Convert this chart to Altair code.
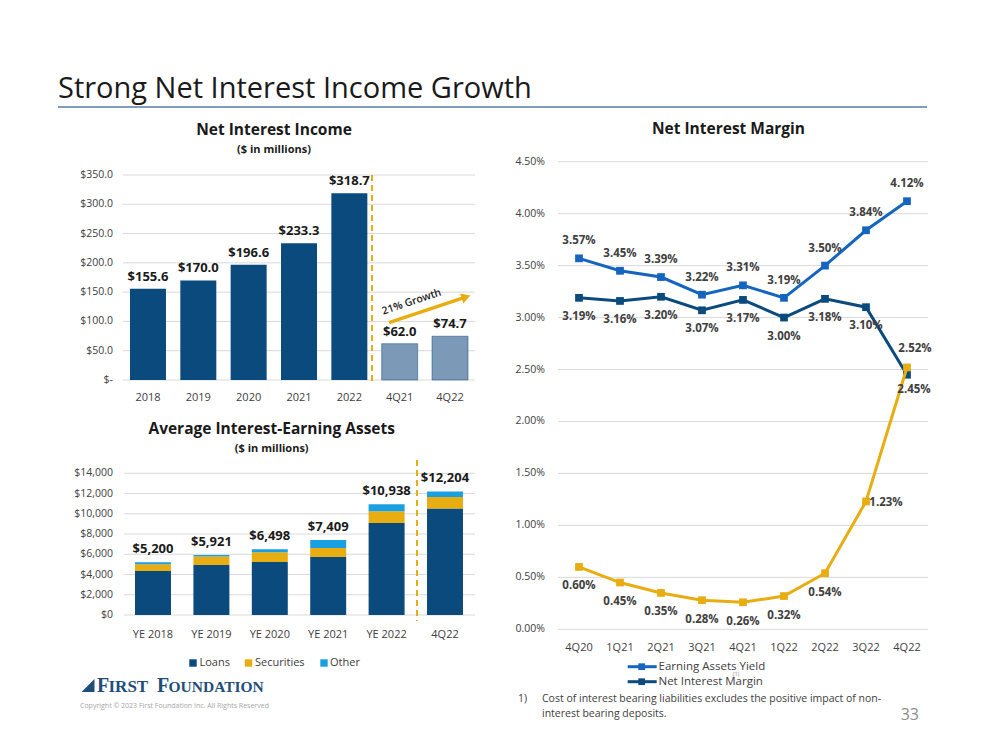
import altair as alt
import pandas as pd

# ---------------- data ----------------
nii_cats = ["2018", "2019", "2020", "2021", "2022", "4Q21", "4Q22"]
nii_vals = [155.6, 170.0, 196.6, 233.3, 318.7, 62.0, 74.7]
nii_kind = ["year", "year", "year", "year", "year", "quarter", "quarter"]
nii_ticks = [0, 50, 100, 150, 200, 250, 300, 350]
nii_tick_labels = ["$-", "$50.0", "$100.0", "$150.0", "$200.0", "$250.0", "$300.0", "$350.0"]

aiea_cats = ["YE 2018", "YE 2019", "YE 2020", "YE 2021", "YE 2022", "4Q22"]
aiea_components = ["Loans", "Securities", "Other"]
loans = [4350, 4940, 5240, 5730, 9090, 10510]
securities = [660, 830, 950, 890, 1155, 1150]
other = [190, 151, 308, 789, 693, 544]
aiea_totals = [5200, 5921, 6498, 7409, 10938, 12204]
aiea_ticks = [0, 2000, 4000, 6000, 8000, 10000, 12000, 14000]

quarters = ["4Q20", "1Q21", "2Q21", "3Q21", "4Q21", "1Q22", "2Q22", "3Q22", "4Q22"]
earning_yield = [3.57, 3.45, 3.39, 3.22, 3.31, 3.19, 3.50, 3.84, 4.12]
net_margin = [3.19, 3.16, 3.20, 3.07, 3.17, 3.00, 3.18, 3.10, 2.45]
cost_liab = [0.60, 0.45, 0.35, 0.28, 0.26, 0.32, 0.54, 1.23, 2.52]
nim_ticks = [0.0, 0.5, 1.0, 1.5, 2.0, 2.5, 3.0, 3.5, 4.0, 4.5]

# ---------------- style ----------------
FONT = "Open Sans"
SERIF = "Liberation Serif"
NAVY = "#0b4a7d"
GOLD = "#e8ad11"
SKY = "#1aa0e2"
BLUE = "#1565c0"
CHECK = "#7d99b8"
GRID = "#d9d9d9"
AXT = "#404040"
DARK = "#1a1a1a"
LOGO = "#1f4e79"


def px(v):
    return v - 8


one = pd.DataFrame({"k": [0]})


def txt(s, x, y, size, color=DARK, weight="normal", align="center",
        baseline="middle", angle=None, font=FONT):
    kw = dict(text=s, fontSize=size, color=color, fontWeight=weight,
              align=align, baseline=baseline, font=font)
    if angle is not None:
        kw["angle"] = angle
    return alt.Chart(one).mark_text(**kw).encode(x=alt.value(px(x)), y=alt.value(px(y)))


def vrule(x, y1, y2, color, width=1, dash=None):
    kw = dict(color=color, strokeWidth=width)
    if dash:
        kw["strokeDash"] = dash
    return alt.Chart(one).mark_rule(**kw).encode(
        x=alt.value(px(x)), y=alt.value(px(y1)), y2=alt.value(px(y2)))


layers = []

# ---------------- header ----------------
layers.append(txt("Strong Net Interest Income Growth", 58, 98, 29, color=DARK,
                  align="left", baseline="alphabetic"))
layers.append(alt.Chart(one).mark_rule(color="#7f9ebf", strokeWidth=2).encode(
    x=alt.value(px(58)), x2=alt.value(px(927)), y=alt.value(px(107))))

# ---------------- Net Interest Income ----------------
nii_x = alt.Scale(domain=nii_cats, range=[px(122.8), px(475.2)],
                  paddingInner=0.285, paddingOuter=0.1425)
nii_y = alt.Scale(domain=[0, 350], range=[px(380), px(175)], nice=False, zero=False)

nii_df = pd.DataFrame({
    "cat": nii_cats, "val": nii_vals, "kind": nii_kind,
    "label": [f"${v:.1f}" for v in nii_vals],
})
nii_tick_df = pd.DataFrame({"v": nii_ticks, "lab": nii_tick_labels})

layers.append(alt.Chart(nii_tick_df).mark_rule(color=GRID, strokeWidth=1).encode(
    y=alt.Y("v:Q", scale=nii_y, axis=None),
    x=alt.value(px(123)), x2=alt.value(px(475))))
layers.append(alt.Chart(nii_tick_df).mark_text(
    align="right", baseline="middle", fontSize=10.5, font=FONT, color=AXT).encode(
    y=alt.Y("v:Q", scale=nii_y, axis=None), x=alt.value(px(113)), text="lab:N"))

base_nii = alt.Chart(nii_df).encode(
    x=alt.X("cat:N", scale=nii_x, axis=None),
    y=alt.Y("val:Q", scale=nii_y, axis=None))
layers.append(base_nii.transform_filter("datum.kind == 'year'").mark_bar(color=NAVY))
layers.append(base_nii.transform_filter("datum.kind == 'quarter'").mark_bar(
    color=CHECK, stroke=NAVY, strokeWidth=0.5))
layers.append(base_nii.mark_text(dy=-12, fontSize=13, fontWeight="bold",
                                 font=FONT, color=DARK).encode(text="label:N"))
layers.append(alt.Chart(nii_df).mark_text(fontSize=11, font=FONT, color=AXT).encode(
    x=alt.X("cat:N", scale=nii_x, axis=None), y=alt.value(px(398)), text="cat:N"))

layers.append(vrule(372, 175, 385, GOLD, 2, [6, 4]))
layers.append(alt.Chart(one).mark_rule(color=GOLD, strokeWidth=3.5).encode(
    x=alt.value(px(389)), y=alt.value(px(322.7)),
    x2=alt.value(px(464)), y2=alt.value(px(297.6))))
layers.append(alt.Chart(one).mark_point(shape="triangle-right", filled=True, opacity=1,
                                        color=GOLD, size=110, angle=341.5).encode(
    x=alt.value(px(466)), y=alt.value(px(297))))
layers.append(txt("21% Growth", 411.7, 302, 10.5, color=DARK, weight=600, angle=341.5))

layers.append(txt("Net Interest Income", 274, 130, 15.5, weight="bold"))
layers.append(txt("($ in millions)", 274, 150, 11, weight="bold"))

# ---------------- Average Interest-Earning Assets ----------------
aiea_x = alt.Scale(domain=aiea_cats, range=[px(123.8), px(474.2)],
                   paddingInner=0.384, paddingOuter=0.192)
aiea_y = alt.Scale(domain=[0, 14000], range=[px(615), px(473.3)], nice=False, zero=False)

rows = []
for i, c in enumerate(aiea_cats):
    rows.append({"cat": c, "comp": "Loans", "value": loans[i], "ord": 0})
    rows.append({"cat": c, "comp": "Securities", "value": securities[i], "ord": 1})
    rows.append({"cat": c, "comp": "Other", "value": other[i], "ord": 2})
aiea_long = pd.DataFrame(rows)
aiea_tot_df = pd.DataFrame({"cat": aiea_cats, "tot": aiea_totals,
                            "label": [f"${v:,}" for v in aiea_totals]})
aiea_tick_df = pd.DataFrame({"v": aiea_ticks, "lab": [f"${v:,}" for v in aiea_ticks]})

layers.append(alt.Chart(aiea_tick_df).mark_rule(color=GRID, strokeWidth=1).encode(
    y=alt.Y("v:Q", scale=aiea_y, axis=None),
    x=alt.value(px(124)), x2=alt.value(px(475))))
layers.append(alt.Chart(aiea_tick_df).mark_text(
    align="right", baseline="middle", fontSize=10.5, font=FONT, color=AXT).encode(
    y=alt.Y("v:Q", scale=aiea_y, axis=None), x=alt.value(px(113)), text="lab:N"))

layers.append(alt.Chart(aiea_long).mark_bar().encode(
    x=alt.X("cat:N", scale=aiea_x, axis=None),
    y=alt.Y("value:Q", scale=aiea_y, axis=None, stack="zero"),
    color=alt.Color("comp:N", scale=alt.Scale(domain=aiea_components,
                                               range=[NAVY, GOLD, SKY]), legend=None),
    order=alt.Order("ord:Q")))
layers.append(alt.Chart(aiea_tot_df).mark_text(
    dy=-13.5, fontSize=13, fontWeight="bold", font=FONT, color=DARK).encode(
    x=alt.X("cat:N", scale=aiea_x, axis=None),
    y=alt.Y("tot:Q", scale=aiea_y, axis=None), text="label:N"))
layers.append(alt.Chart(aiea_tot_df).mark_text(fontSize=11, font=FONT, color=AXT).encode(
    x=alt.X("cat:N", scale=aiea_x, axis=None), y=alt.value(px(635)), text="cat:N"))

layers.append(vrule(417, 460, 621, GOLD, 2, [6, 4]))
layers.append(txt("Average Interest-Earning Assets", 271.7, 428.5, 15.5, weight="bold"))
layers.append(txt("($ in millions)", 271.7, 448.5, 11, weight="bold"))

# legend
leg_df = pd.DataFrame({"comp": aiea_components,
                       "sx": [px(193), px(248.5), px(324)],
                       "tx": [px(199.5), px(255), px(330)]})
layers.append(alt.Chart(leg_df).mark_square(size=55, opacity=1).encode(
    x=alt.X("sx:Q", scale=None), y=alt.value(px(663)),
    color=alt.Color("comp:N", scale=alt.Scale(domain=aiea_components,
                                               range=[NAVY, GOLD, SKY]), legend=None)))
layers.append(alt.Chart(leg_df).mark_text(align="left", baseline="middle", fontSize=11,
                                          font=FONT, color=AXT).encode(
    x=alt.X("tx:Q", scale=None), y=alt.value(px(663)), text="comp:N"))

# ---------------- Net Interest Margin ----------------
nim_x = alt.Scale(type="point", domain=quarters, range=[px(558.5), px(927.5)], padding=0.5)
nim_y = alt.Scale(domain=[0, 4.5], range=[px(629.3), px(161.7)], nice=False, zero=False)

nim_tick_df = pd.DataFrame({"v": nim_ticks, "lab": [f"{v:.2f}%" for v in nim_ticks]})
layers.append(alt.Chart(nim_tick_df).mark_rule(color=GRID, strokeWidth=1).encode(
    y=alt.Y("v:Q", scale=nim_y, axis=None),
    x=alt.value(px(558)), x2=alt.value(px(928))))
layers.append(alt.Chart(nim_tick_df).mark_text(
    align="right", baseline="middle", fontSize=10.5, font=FONT, color=AXT).encode(
    y=alt.Y("v:Q", scale=nim_y, axis=None), x=alt.value(px(545)), text="lab:N"))

q_df = pd.DataFrame({"q": quarters})
layers.append(alt.Chart(q_df).mark_text(fontSize=11, font=FONT, color=AXT).encode(
    x=alt.X("q:N", scale=nim_x, axis=None), y=alt.value(px(648)), text="q:N"))


def series_df(vals):
    return pd.DataFrame({"q": quarters, "v": vals, "i": list(range(len(vals))),
                         "label": [f"{v:.2f}%" for v in vals]})


def series_layers(vals, color):
    b = alt.Chart(series_df(vals)).encode(
        x=alt.X("q:N", scale=nim_x, axis=None),
        y=alt.Y("v:Q", scale=nim_y, axis=None))
    return [b.mark_line(color=color, strokeWidth=3),
            b.mark_point(shape="square", filled=True, opacity=1, size=60, color=color)]


def label_layer(vals, flt, dx, dy):
    return alt.Chart(series_df(vals)).transform_filter(flt).mark_text(
        dx=dx, dy=dy, fontSize=11.5, fontWeight="bold", font=FONT, color=AXT).encode(
        x=alt.X("q:N", scale=nim_x, axis=None),
        y=alt.Y("v:Q", scale=nim_y, axis=None), text="label:N")


layers += series_layers(earning_yield, BLUE)
layers += series_layers(net_margin, NAVY)
layers += series_layers(cost_liab, GOLD)

layers.append(label_layer(earning_yield, "true", 0, -17))
layers.append(label_layer(net_margin, "datum.i < 8", 0, 19))
layers.append(label_layer(net_margin, "datum.i == 8", 7, 15))
layers.append(label_layer(cost_liab, "datum.i < 7", 0, 19.5))
layers.append(label_layer(cost_liab, "datum.i == 7", 20, 2))
layers.append(label_layer(cost_liab, "datum.i == 8", 8, -18))

layers.append(txt("Net Interest Margin", 728.5, 129, 15.5, weight="bold"))

# NIM legend
for yy, col, name in [(666.7, BLUE, "Earning Assets Yield"), (681.7, NAVY, "Net Interest Margin")]:
    layers.append(alt.Chart(one).mark_rule(color=col, strokeWidth=3).encode(
        x=alt.value(px(627.7)), x2=alt.value(px(656.7)), y=alt.value(px(yy))))
    layers.append(alt.Chart(one).mark_square(size=45, opacity=1, color=col).encode(
        x=alt.value(px(641.7)), y=alt.value(px(yy))))
    layers.append(txt(name, 658.5, yy, 11.5, color=AXT, align="left"))
layers.append(txt("(1)", 736, 673.5, 5.5, color="#808080"))

# footnote + page number
layers.append(txt("1)", 518, 699, 10.5, color=AXT, align="left"))
layers.append(txt("Cost of interest bearing liabilities excludes the positive impact of non-",
                  542, 699, 10.5, color=AXT, align="left"))
layers.append(txt("interest bearing deposits.", 542, 713.5, 10.5, color=AXT, align="left"))
layers.append(txt("33", 919, 715, 16, color="#8c8c8c", align="right"))

# logo + copyright
layers.append(alt.Chart(one).mark_point(
    shape="M -1 1 L 1 1 L 1 -1 Z", filled=True, opacity=1, color=LOGO, size=170).encode(
    x=alt.value(px(88)), y=alt.value(px(685.5))))
layers.append(txt("F", 97, 686, 20, color=LOGO, align="left", weight="bold", font=SERIF))
layers.append(txt("IRST", 108.5, 687, 17, color=LOGO, align="left", weight="bold", font=SERIF))
layers.append(txt("F", 157, 686, 20, color=LOGO, align="left", weight="bold", font=SERIF))
layers.append(txt("OUNDATION", 168.5, 687, 15.5, color=LOGO, align="left", weight="bold", font=SERIF))
layers.append(txt("Copyright \u00a9 2023 First Foundation Inc. All Rights Reserved",
                  80, 705.5, 7, color="#a6a6a6", align="left"))

chart = alt.layer(*layers).resolve_scale(
    x="independent", y="independent", color="independent"
).properties(
    width=983, height=734, padding=0, autosize="none"
).configure_view(stroke=None)

chart.save("out.html", embed_options={"renderer": "svg", "actions": False})
